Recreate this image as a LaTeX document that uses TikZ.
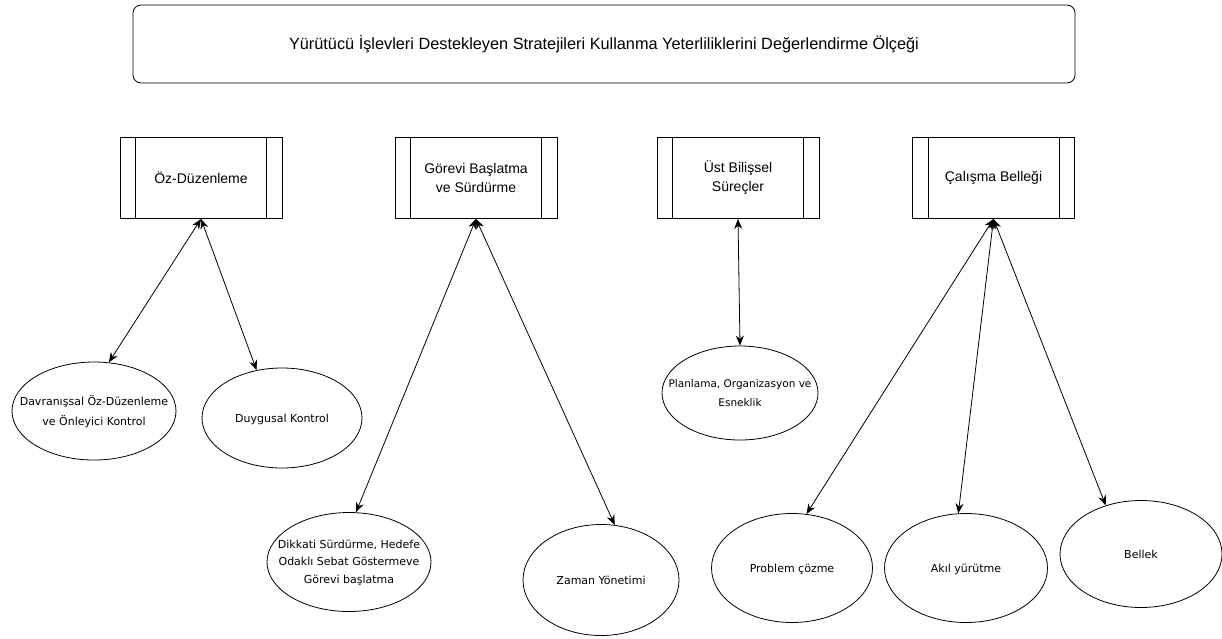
\documentclass[tikz,border=0pt]{standalone}
\usepackage{fontspec}
\setmainfont{Liberation Sans}
\newfontfamily\ellfont{DejaVu Sans}
\usetikzlibrary{shapes.geometric,arrows.meta}
\newcommand\ellbox[1]{\makebox[0pt]{\begin{tabular}{@{}c@{}}#1\end{tabular}}}
\begin{document}
\begin{tikzpicture}[x=1pt,y=-1pt,
  title/.style={draw,rounded corners=8pt,minimum width=942pt,minimum height=78pt,font=\fontsize{16.3}{18}\selectfont,line width=0.8pt},
  sub/.style={draw,minimum width=162pt,minimum height=81pt,align=center,font=\fontsize{14}{19}\selectfont,line width=0.8pt},
  ell/.style={draw,ellipse,inner sep=0pt,font=\ellfont\fontsize{11}{20}\selectfont,line width=0.8pt},
  link/.style={{Stealth[length=10pt,width=8pt]}-{Stealth[length=10pt,width=8pt]},line width=0.8pt}]
\useasboundingbox (0,0) rectangle (1222,638);
\node[title] (t) at (604,44) {Yürütücü İşlevleri Destekleyen Stratejileri Kullanma Yeterliliklerini Değerlendirme Ölçeği};
% subroutine boxes
\foreach \n/\x/\txt in {a/201/Öz-Düzenleme, b/476/{Görevi Başlatma\\ve Sürdürme}, c/738/{Üst Bilişsel\\Süreçler}, d/993.5/Çalışma Belleği}{
  \node[sub] (\n) at (\x,178) {\txt};
  \draw[line width=0.8pt] ([xshift=16pt]\n.north west) -- ([xshift=16pt]\n.south west);
  \draw[line width=0.8pt] ([xshift=-16pt]\n.north east) -- ([xshift=-16pt]\n.south east);
}
% ellipses
\node[ell,minimum width=164pt,minimum height=98pt] (e1) at (94,411) {\ellbox{Davranışsal Öz-Düzenleme\\ve Önleyici Kontrol}};
\node[ell,minimum width=160pt,minimum height=100pt] (e2) at (282,418) {\ellbox{Duygusal Kontrol}};
\node[ell,minimum width=164pt,minimum height=99pt,font=\ellfont\fontsize{11}{17.5}\selectfont] (e3) at (349,562) {\ellbox{Dikkati Sürdürme, Hedefe\\Odaklı Sebat Göstermeve\\Görevi başlatma}};
\node[ell,minimum width=156pt,minimum height=111pt] (e4) at (601,580) {\ellbox{Zaman Yönetimi}};
\node[ell,minimum width=156pt,minimum height=94pt,font=\ellfont\fontsize{10.5}{19}\selectfont] (e5) at (740,393) {\ellbox{Planlama, Organizasyon ve\\Esneklik}};
\node[ell,minimum width=161pt,minimum height=109pt] (e6) at (792,568) {\ellbox{Problem çözme}};
\node[ell,minimum width=163pt,minimum height=109pt] (e7) at (966,568) {\ellbox{Akıl yürütme}};
\node[ell,minimum width=162pt,minimum height=107pt] (e8) at (1141,554) {\ellbox{Bellek}};
% connectors
\draw[link] (a.south) -- (e1.73);
\draw[link] (a.south) -- (e2.118);
\draw[link] (b.south) -- (e3.82);
\draw[link] (b.south) -- (e4.76);
\draw[link] (c.south) -- (e5.north);
\draw[link] (d.south) -- (e6.75);
\draw[link] (d.south) -- (e7.98);
\draw[link] (d.south) -- (e8.126);
\end{tikzpicture}
\end{document}
